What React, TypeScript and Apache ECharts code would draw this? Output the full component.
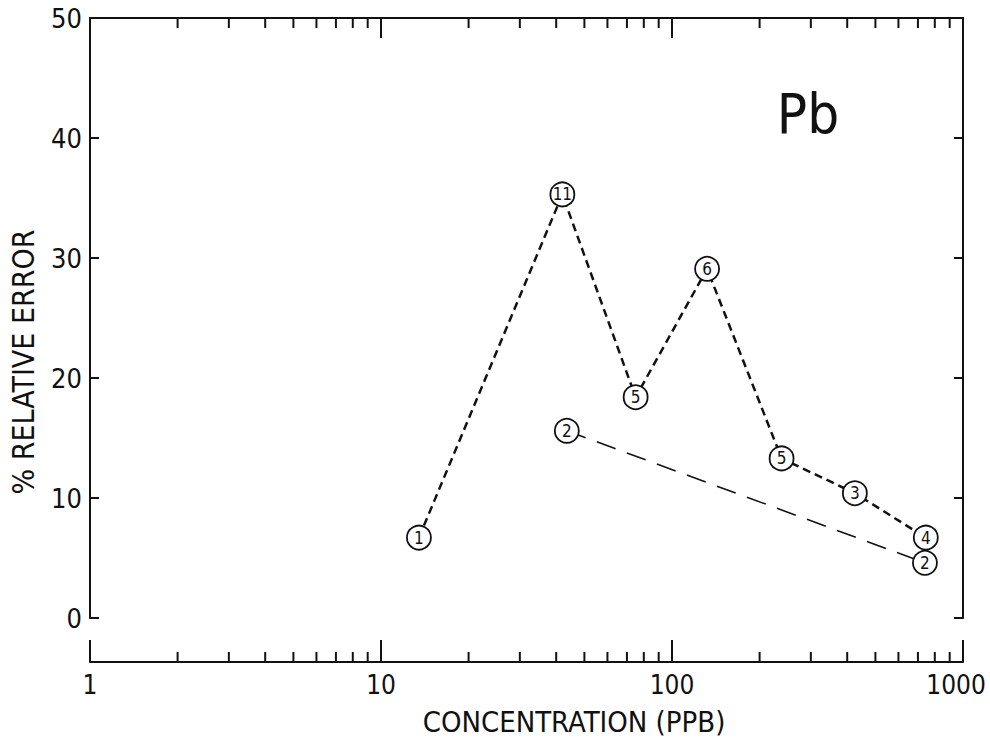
import React, { useEffect, useRef } from "react";
import * as echarts from "echarts";

// Series A: short-dashed line (concentration in ppb, % relative error, number of labs)
const seriesAConc = [13.5, 42, 75, 132, 238, 425, 745];
const seriesAErr = [6.7, 35.3, 18.4, 29.1, 13.3, 10.4, 6.7];
const seriesACount = ["1", "11", "5", "6", "5", "3", "4"];

// Series B: long-dashed line
const seriesBConc = [43.5, 740];
const seriesBErr = [15.6, 4.6];
const seriesBCount = ["2", "2"];

const yTicks = [0, 10, 20, 30, 40, 50];
const xDecades = [1, 10, 100, 1000];
const minorMultipliers = [2, 3, 4, 5, 6, 7, 8, 9];

const FONT = "'Liberation Sans Narrow', 'DejaVu Sans Condensed', 'DejaVu Sans', sans-serif";
const INK = "#111";

export default function App() {
  const ref = useRef<HTMLDivElement>(null);
  useEffect(() => {
    if (!ref.current) return;
    const chart = echarts.init(ref.current, null, { renderer: "svg" });
    const minorTicks: number[] = [];
    xDecades.slice(0, -1).forEach((d) => minorMultipliers.forEach((m) => minorTicks.push(d * m)));
    const axisOffset = 44;
    const xMax = xDecades[xDecades.length - 1];

    const pointSeries = (conc: number[], err: number[], cnt: string[], dash: number[], width: number) => ({
      type: "line",
      data: conc.map((c, i) => ({ value: [c, err[i]], label: { formatter: cnt[i] } })),
      symbol: "circle",
      symbolSize: 24,
      itemStyle: { color: "#fff", borderColor: INK, borderWidth: 1.8 },
      lineStyle: { color: INK, width, type: dash },
      label: { show: true, position: "inside", color: INK, fontSize: 17, fontFamily: FONT },
      z: 3,
    });

    const xLabelStyle = { color: INK, fontSize: 26, fontFamily: FONT };

    chart.setOption({
      animation: false,
      backgroundColor: "#fff",
      grid: { left: 90, right: 27, top: 18, bottom: 123, outerBoundsMode: "none", containLabel: false },
      xAxis: [
        {
          type: "log",
          logBase: 10,
          min: xDecades[0],
          max: xMax,
          position: "bottom",
          offset: axisOffset,
          axisLine: { show: true, onZero: false, lineStyle: { color: INK, width: 2 } },
          axisTick: { show: true, inside: true, length: 22, lineStyle: { color: INK, width: 2 } },
          axisLabel: {
            show: true,
            margin: 10,
            ...xLabelStyle,
            formatter: (v: number) => {
              const s = String(Math.round(v));
              return Math.round(v) === xMax ? `{last|${s}}` : s;
            },
            rich: { last: { ...xLabelStyle, padding: [0, 14, 0, 0] } },
          },
          splitLine: { show: false },
          minorTick: { show: false },
        },
        {
          type: "log",
          logBase: 10,
          min: xDecades[0],
          max: xMax,
          position: "top",
          axisLine: { show: true, onZero: false, lineStyle: { color: INK, width: 2 } },
          axisTick: { show: true, inside: true, length: 20, lineStyle: { color: INK, width: 2 } },
          axisLabel: { show: false },
          splitLine: { show: false },
        },
      ],
      yAxis: [
        {
          type: "value",
          min: yTicks[0],
          max: yTicks[yTicks.length - 1],
          interval: 10,
          position: "left",
          axisLine: { show: true, onZero: false, lineStyle: { color: INK, width: 2 } },
          axisTick: { show: true, inside: true, length: 9, lineStyle: { color: INK, width: 2 } },
          axisLabel: { show: true, margin: 8, color: INK, fontSize: 27, fontFamily: FONT },
          splitLine: { show: false },
        },
        {
          type: "value",
          min: yTicks[0],
          max: yTicks[yTicks.length - 1],
          interval: 10,
          position: "right",
          axisLine: { show: true, onZero: false, lineStyle: { color: INK, width: 2 } },
          axisTick: { show: true, inside: true, length: 9, lineStyle: { color: INK, width: 2 } },
          axisLabel: { show: false },
          splitLine: { show: false },
        },
      ],
      series: [
        {
          type: "custom",
          xAxisIndex: 0,
          yAxisIndex: 0,
          silent: true,
          clip: false,
          data: minorTicks.map((v) => [v, 0]),
          encode: { x: 0, y: 1 },
          renderItem: (params: any, api: any) => {
            const v = api.value(0);
            const top = api.coord([v, yTicks[yTicks.length - 1]]);
            const bot = api.coord([v, yTicks[0]]);
            const axisY = bot[1] + axisOffset;
            const style = { stroke: INK, lineWidth: 2 };
            return {
              type: "group",
              children: [
                { type: "line", shape: { x1: top[0], y1: top[1], x2: top[0], y2: top[1] + 10 }, style },
                { type: "line", shape: { x1: bot[0], y1: axisY, x2: bot[0], y2: axisY - 10 }, style },
              ],
            };
          },
          z: 1,
        },
        pointSeries(seriesBConc, seriesBErr, seriesBCount, [20, 12], 1.6),
        pointSeries(seriesAConc, seriesAErr, seriesACount, [8, 5], 2.5),
      ],
      graphic: [
        {
          type: "text",
          x: 808,
          y: 113,
          style: { text: "Pb", fontSize: 56, fontFamily: FONT, fill: INK, textAlign: "center", textVerticalAlign: "middle" },
        },
        {
          type: "text",
          x: 574,
          y: 722,
          style: { text: "CONCENTRATION (PPB)", fontSize: 29, fontFamily: FONT, fill: INK, textAlign: "center", textVerticalAlign: "middle" },
        },
        {
          type: "text",
          x: 23,
          y: 362,
          rotation: Math.PI / 2,
          style: { text: "% RELATIVE ERROR", fontSize: 30, fontFamily: FONT, fill: INK, textAlign: "center", textVerticalAlign: "middle" },
        },
      ],
    });
    return () => chart.dispose();
  }, []);
  return <div ref={ref} style={{ position: "fixed", left: 0, top: 0, width: 990, height: 741 }} />;
}
